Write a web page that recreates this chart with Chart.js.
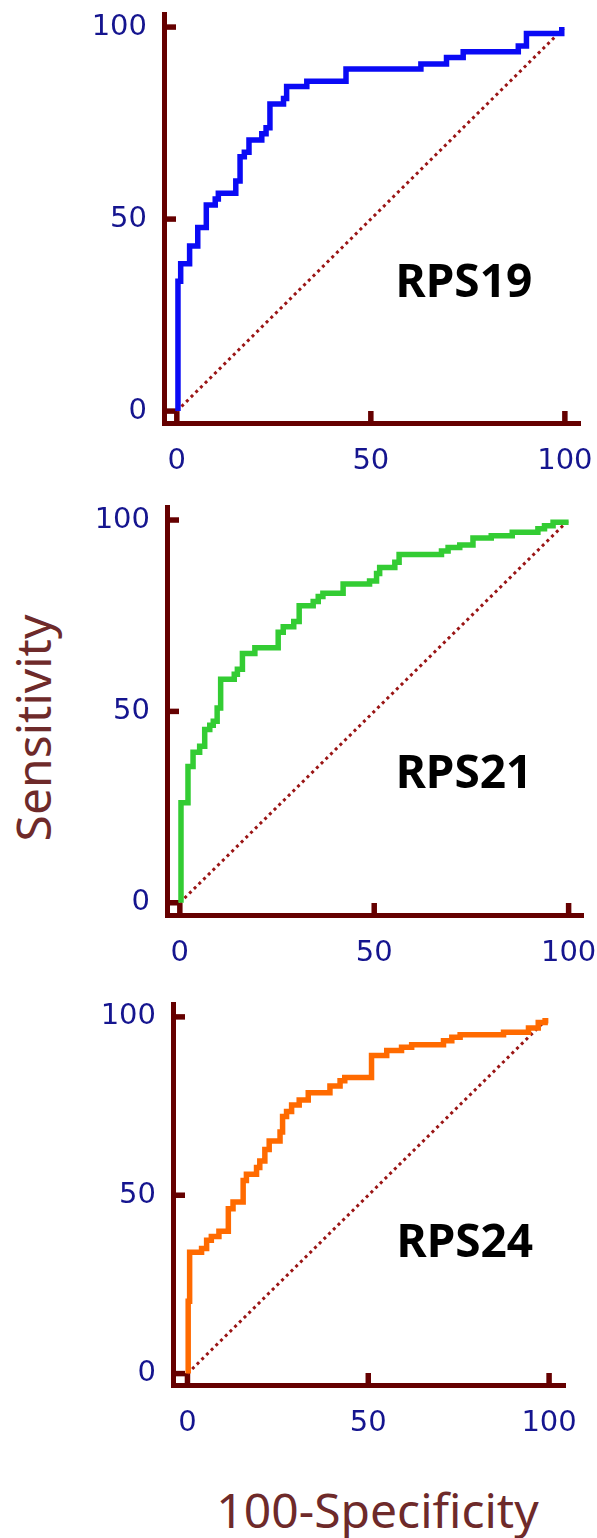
<!DOCTYPE html>
<html>
<head>
<meta charset="utf-8">
<script src="https://cdn.jsdelivr.net/npm/chart.js@4.4.1/dist/chart.umd.min.js"></script>
<style>
    html, body { margin: 0; padding: 0; background: #fff; }
    body { position: relative; width: 597px; height: 1538px; overflow: hidden; }
    canvas { position: absolute; left: 0; }
    .axisTitle { position: absolute; font-family: "Noto Sans", sans-serif; font-size: 48px; line-height: 48px; color: #6e2a2a; white-space: nowrap; text-align: center; }
</style>
</head>
<body>
<div class="axisTitle" style="left:-117px; top:704px; width:300px; height:48px; transform: rotate(-90deg);">Sensitivity</div>
<div class="axisTitle" style="left:0; top:1486px; width:755px;">100-Specificity</div>
<script>
const tickValues = [0, 50, 100];
const diagonalX = [0, 100];
const diagonalY = [0, 100];

// ROC staircases: each point ends a flat run (the rise happens at the previous x)
const rps19Fpr = [0.3, 1.0, 3.3, 5.4, 7.6, 9.9, 10.7, 15.2, 16.3, 17.4, 18.6, 21.9, 23.0, 24.0, 27.5, 28.3, 33.5, 43.6, 62.9, 69.5, 73.8, 88.0, 90.1, 99.2, 99.2];
const rps19Tpr = [0, 33.8, 38.4, 43.0, 47.8, 53.7, 55.2, 56.7, 59.9, 66.2, 67.4, 70.6, 72.2, 73.8, 80.0, 81.4, 84.5, 85.9, 89.1, 90.4, 92.1, 93.6, 95.1, 98.3, 100];

const rps21Fpr = [0.3, 2.1, 3.4, 5.1, 6.4, 7.7, 8.6, 9.6, 10.5, 14.0, 14.8, 16.1, 19.3, 25.3, 26.6, 29.3, 30.7, 34.3, 35.6, 36.8, 42.0, 48.8, 50.6, 51.4, 55.3, 56.4, 67.3, 69.0, 72.0, 75.4, 80.1, 85.5, 92.1, 93.8, 96.0, 100];
const rps21Tpr = [0, 26.1, 35.6, 39.3, 40.9, 45.3, 46.4, 47.4, 50.9, 58.4, 59.7, 61.0, 65.1, 66.6, 70.7, 72.1, 73.5, 77.6, 78.7, 80.0, 80.9, 83.3, 84.1, 86.0, 87.6, 89.0, 91.0, 91.9, 92.8, 93.5, 95.3, 95.9, 96.8, 97.7, 98.5, 99.4];

const rps24Fpr = [0.2, 0.6, 3.9, 5.3, 6.6, 8.7, 11.3, 12.6, 15.4, 16.3, 19.1, 20.0, 21.4, 22.6, 25.6, 26.3, 27.4, 28.8, 30.9, 33.4, 39.4, 42.2, 43.5, 50.9, 55.1, 59.2, 62.0, 70.8, 73.1, 75.4, 87.4, 94.3, 97.0, 98.9, 99.8];
const rps24Tpr = [0, 20.3, 34.0, 35.1, 37.4, 38.4, 39.9, 46.2, 48.1, 54.1, 55.9, 57.8, 59.6, 62.8, 65.2, 67.7, 72.1, 73.5, 75.3, 76.7, 78.7, 80.6, 82.1, 83.0, 89.2, 90.6, 91.5, 92.2, 93.3, 94.3, 95.0, 95.7, 96.9, 98.4, 98.9];

const axisColor = '#650000';
const tickFont = { family: '"DejaVu Sans", sans-serif', size: 29 };
const tickColor = '#15158f';

const panels = [
    { name: 'RPS19', fpr: rps19Fpr, tpr: rps19Tpr, color: '#0a0af5',
      box: { left: 164, top: 10, right: 580, bottom: 423 }, xRange: [-3.3, 103.9], yRange: [-3.1, 103.3], labelAt: [74, 29.8] },
    { name: 'RPS21', fpr: rps21Fpr, tpr: rps21Tpr, color: '#33cc33',
      box: { left: 167, top: 503, right: 583, bottom: 915 }, xRange: [-3.3, 103.7], yRange: [-3.2, 103.3], labelAt: [73.1, 30.0] },
    { name: 'RPS24', fpr: rps24Fpr, tpr: rps24Tpr, color: '#ff6a00',
      box: { left: 173, top: 1000, right: 565, bottom: 1385 }, xRange: [-4.0, 104.4], yRange: [-3.2, 103.5], labelAt: [76.7, 32.8] }
];

// short tick marks pointing into the plot, as in the original
const innerTicks = {
    id: 'innerTicks',
    beforeDatasetsDraw(chart) {
        const { ctx, chartArea, scales: { x, y } } = chart;
        ctx.save();
        ctx.strokeStyle = axisColor;
        ctx.lineWidth = 5.5;
        x.ticks.forEach(t => {
            const px = x.getPixelForValue(t.value);
            ctx.beginPath();
            ctx.moveTo(px, chartArea.bottom);
            ctx.lineTo(px, chartArea.bottom - 12);
            ctx.stroke();
        });
        y.ticks.forEach(t => {
            const py = y.getPixelForValue(t.value);
            ctx.beginPath();
            ctx.moveTo(chartArea.left, py);
            ctx.lineTo(chartArea.left + 12, py);
            ctx.stroke();
        });
        ctx.restore();
    }
};

const panelLabel = {
    id: 'panelLabel',
    afterDatasetsDraw(chart, args, opts) {
        const { ctx, scales: { x, y } } = chart;
        ctx.save();
        ctx.font = 'bold 46px "Noto Sans", sans-serif';
        ctx.fillStyle = '#000';
        ctx.textAlign = 'center';
        ctx.textBaseline = 'alphabetic';
        ctx.fillText(opts.text, x.getPixelForValue(opts.at[0]), y.getPixelForValue(opts.at[1]));
        ctx.restore();
    }
};

const canvasWidth = 640;
const padTop = 30;
const xAxisHeight = 70;

panels.forEach(p => {
    const b = p.box;
    const canvas = document.createElement('canvas');
    canvas.width = canvasWidth;
    canvas.height = padTop + (b.bottom - b.top) + xAxisHeight;
    canvas.style.top = (b.top - padTop) + 'px';
    document.body.appendChild(canvas);

    const setTicks = scale => { scale.ticks = tickValues.map(v => ({ value: v })); };

    new Chart(canvas.getContext('2d'), {
        type: 'line',
        data: {
            datasets: [{
                data: p.fpr.map((x, i) => ({ x: x, y: p.tpr[i] })),
                stepped: 'after',
                borderColor: p.color,
                borderWidth: 5.5,
                pointRadius: 0,
                fill: false
            }, {
                data: diagonalX.map((x, i) => ({ x: x, y: diagonalY[i] })),
                borderColor: '#9a1515',
                borderWidth: 3,
                borderDash: [3, 3.6],
                pointRadius: 0,
                fill: false
            }]
        },
        options: {
            responsive: false,
            animation: false,
            events: [],
            layout: { padding: { top: padTop, right: canvasWidth - b.right, left: 0, bottom: 0 } },
            plugins: {
                legend: { display: false },
                tooltip: { enabled: false },
                panelLabel: { text: p.name, at: p.labelAt }
            },
            scales: {
                x: {
                    type: 'linear',
                    min: p.xRange[0],
                    max: p.xRange[1],
                    afterBuildTicks: setTicks,
                    afterFit: s => { s.height = xAxisHeight; },
                    grid: { display: false, drawTicks: false },
                    border: { color: axisColor, width: 5 },
                    ticks: { font: tickFont, color: tickColor, padding: 21, maxRotation: 0 }
                },
                y: {
                    type: 'linear',
                    min: p.yRange[0],
                    max: p.yRange[1],
                    afterBuildTicks: setTicks,
                    afterFit: s => { s.width = b.left; },
                    grid: { display: false, drawTicks: false },
                    border: { color: axisColor, width: 5 },
                    ticks: { font: tickFont, color: tickColor, padding: 17 }
                }
            }
        },
        plugins: [innerTicks, panelLabel]
    });
});
</script>
</body>
</html>
